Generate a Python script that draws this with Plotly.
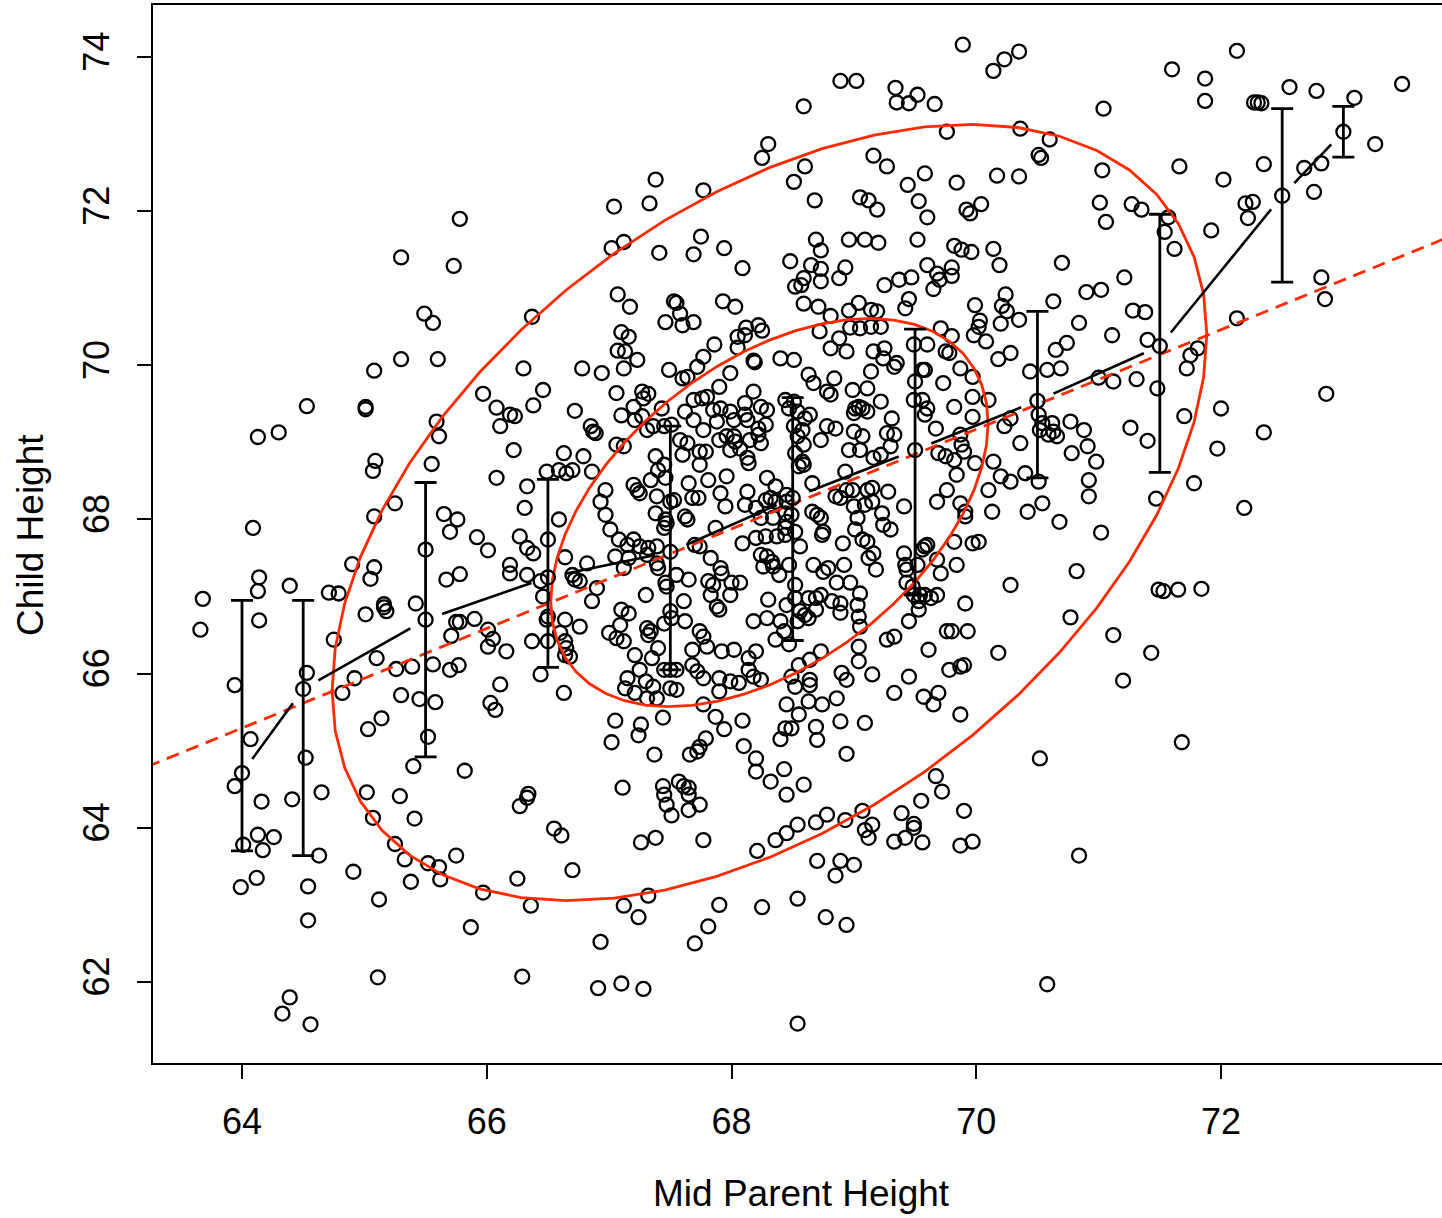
import math
import plotly.graph_objects as go

# ---------------- scatter data (mid parent height, child height) ----------------
parent_a = [65.78, 65.30, 65.73, 65.49, 65.56, 65.30, 65.60,
            68.30, 68.25, 67.38, 67.77, 67.04, 67.33, 68.51,
            67.02, 67.12, 67.41, 67.75, 67.69, 67.94, 68.09, 68.48,
            66.37, 67.07, 67.17, 67.53, 67.55, 67.58, 67.46, 67.60, 67.69, 67.93, 68.03,
            67.10, 67.16, 67.07, 67.13, 67.23, 67.86, 67.77, 68.05, 68.12, 68.11, 68.05, 68.22, 68.25, 68.18, 68.19, 68.40]
child_a = [71.90, 71.40, 71.29, 70.67, 70.55, 70.08, 70.08,
           72.87, 72.69, 72.41, 72.27, 72.06, 72.10, 72.38,
           71.52, 71.60, 71.46, 71.67, 71.44, 71.52, 71.26, 71.35,
           70.63, 70.92, 70.76, 70.83, 70.81, 70.67, 70.56, 70.52, 70.56, 70.83, 70.76,
           70.43, 70.37, 70.19, 70.18, 70.07, 70.27, 70.11, 70.37, 70.49, 70.39, 70.23, 70.52, 70.45, 70.06, 70.04, 70.09]

parent_b = [69.89, 70.23, 70.35, 70.14, 68.89, 69.02, 69.34, 69.52, 69.35, 69.45,
            69.66, 68.59, 69.76, 70.36, 70.60, 69.16, 69.27, 70.51, 70.53, 68.60,
            69.58, 69.44, 69.84, 70.17, 70.35, 68.68, 69.05, 69.12, 69.19, 69.53,
            69.60, 69.92, 69.95, 70.04, 68.69, 68.73, 68.96, 69.09, 69.20, 69.52,
            69.82, 69.88, 69.96, 70.14, 70.19, 70.70, 68.65, 68.73, 68.59, 68.52,
            68.57, 68.73, 68.88, 68.93, 69.60, 69.68, 69.80, 69.80, 69.70, 69.65,
            69.25, 69.37, 69.47, 70.90, 68.59, 68.71, 68.81, 68.96, 69.04, 69.14,
            69.19, 69.42, 69.45, 69.99, 70.24, 70.21, 70.25, 70.03, 70.02, 69.98,
            70.08, 70.20, 70.35, 70.63, 70.84, 70.74, 70.65, 70.28, 70.18, 68.72,
            68.88, 68.81, 68.94, 68.97, 69.05, 69.14, 69.22, 69.16, 69.25, 69.24,
            69.35, 69.49, 69.60, 69.71, 69.80, 69.75, 69.78, 68.51]
child_b = [74.16, 73.97, 74.07, 73.82, 73.69, 73.69, 73.60, 73.51, 73.41, 73.40,
           73.39, 73.36, 73.03, 73.07, 72.93, 72.72, 72.58, 72.73, 72.69, 72.58,
           72.49, 72.34, 72.37, 72.46, 72.45, 72.14, 72.18, 72.14, 72.02, 72.13,
           71.92, 72.02, 71.97, 72.09, 71.63, 71.49, 71.63, 71.63, 71.59, 71.63,
           71.55, 71.50, 71.47, 71.51, 71.30, 71.33, 71.30, 71.25, 71.13, 71.02,
           71.04, 71.09, 71.13, 71.27, 71.30, 71.19, 71.27, 71.16, 71.11, 70.99,
           71.04, 71.11, 71.14, 70.95, 70.80, 70.76, 70.64, 70.71, 70.81, 70.72,
           70.70, 70.74, 70.86, 70.78, 70.92, 70.77, 70.70, 70.58, 70.50, 70.39,
           70.31, 70.54, 70.59, 70.83, 70.55, 70.29, 70.20, 70.16, 70.08, 70.44,
           70.35, 70.22, 70.18, 70.49, 70.48, 70.50, 70.50, 70.18, 70.22, 70.09,
           70.03, 70.27, 70.27, 70.48, 70.38, 70.18, 70.16, 70.07]

parent_c = [72.13, 71.60, 71.87, 71.87, 72.56, 72.78, 73.09, 73.48, 71.04, 72.27,
            72.30, 72.33, 73.26, 72.35, 72.68, 72.82, 72.76, 71.03, 71.66, 72.02,
            71.01, 71.27, 71.35, 71.06, 71.57, 71.54, 71.62, 71.92, 72.20, 72.26,
            72.22, 72.82, 72.85, 71.21, 71.02, 71.28, 71.38, 71.11, 71.40, 72.13,
            71.81, 71.75]
child_c = [74.08, 73.84, 73.72, 73.43, 73.61, 73.56, 73.47, 73.65, 73.33, 73.41,
           73.41, 73.40, 72.87, 72.61, 72.56, 72.62, 72.25, 72.53, 72.58, 72.41,
           72.11, 72.09, 72.02, 71.86, 71.92, 71.73, 71.51, 71.75, 72.10, 72.12,
           71.91, 71.14, 70.86, 71.14, 70.98, 70.71, 70.69, 70.39, 70.33, 70.61,
           70.22, 70.13]

parent_d = [65.08, 65.97, 66.08, 64.53, 65.01, 65.01, 64.13, 64.30, 65.59, 65.61,
            65.09, 65.07, 65.55, 65.25, 65.08, 65.65, 65.76, 65.70, 65.92, 66.01,
            65.50, 64.09, 64.90, 65.08, 65.05, 64.14, 64.13, 64.39, 63.68, 63.66,
            64.14, 64.71, 64.79, 65.16, 65.16, 65.18, 65.01, 65.42, 65.67, 65.78,
            65.75, 65.78, 65.90, 65.71, 66.01, 66.05, 66.01, 64.75, 65.10, 64.92,
            64.82, 64.53, 63.94, 65.26, 65.39, 65.56, 65.70, 65.77, 65.30, 65.45,
            65.58, 66.03, 66.11, 66.07, 66.11, 66.08]
child_d = [69.93, 69.63, 69.45, 69.47, 69.46, 69.43, 69.07, 69.13, 69.27, 69.08,
           68.76, 68.63, 68.72, 68.21, 68.04, 68.07, 68.00, 67.84, 67.77, 67.60,
           67.61, 67.89, 67.42, 67.38, 67.23, 67.25, 67.07, 67.14, 66.97, 66.57,
           66.69, 67.05, 67.04, 66.90, 66.86, 66.81, 66.77, 66.91, 67.22, 67.29,
           66.67, 66.67, 66.71, 66.49, 66.57, 66.45, 66.35, 66.44, 66.20, 65.94,
           65.75, 66.01, 65.85, 66.06, 66.09, 66.12, 66.05, 66.11, 65.72, 65.67,
           65.63, 65.62, 65.86, 65.53, 69.21, 68.54]

parent_e = [66.30, 66.78, 66.94, 67.12, 67.49, 67.60, 67.64, 67.72, 67.99, 66.46,
            66.38, 66.72, 67.06, 67.27, 67.32, 67.28, 67.20, 67.10, 67.43, 67.69,
            67.76, 67.80, 67.90, 68.18, 68.11, 68.24, 68.29, 68.44, 68.47, 67.62,
            67.85, 67.91, 67.99, 68.11, 66.19, 66.23, 67.27, 67.21, 67.31, 67.36,
            67.45, 67.51, 67.69, 67.77, 67.88, 68.02, 68.13, 68.22, 68.28, 66.85,
            66.87, 66.89, 67.06, 67.12, 66.22, 67.58, 67.64, 67.60, 67.90, 67.96,
            68.02, 68.03, 67.99, 68.07, 68.15, 68.24, 68.13, 68.14, 67.74, 67.79,
            67.74, 67.38, 67.45, 67.40, 68.22, 66.63, 66.79, 66.86, 66.70, 66.49,
            66.59, 66.65, 66.33, 66.97, 66.93, 67.20, 67.23, 67.25, 67.34, 67.46,
            67.65, 67.81, 67.96, 68.29, 68.36, 68.13, 67.91, 67.68, 67.73, 67.39,
            67.50, 67.53, 68.11, 68.20, 68.28, 68.32, 68.36, 68.45, 68.45, 67.95,
            68.44, 66.31, 66.97, 66.59, 67.38, 67.46, 67.47, 67.45, 67.62, 67.64,
            67.87, 66.27, 66.50, 66.38, 66.33, 67.01, 67.08, 67.15, 67.20, 67.25,
            67.32, 67.39, 67.31, 67.70, 67.74, 68.09, 68.20, 68.28, 68.37, 68.44,
            68.44, 68.34, 68.24, 68.45, 66.19, 66.19, 66.33, 66.64, 66.82, 66.70,
            66.72, 66.76, 66.44, 66.46, 66.90, 66.86, 67.05, 67.16, 67.12, 67.39,
            67.40, 67.83, 67.91, 67.92, 67.81, 67.85, 68.00, 68.07, 67.99, 67.65,
            67.55, 67.46, 67.47, 68.24, 68.29, 68.33, 68.34, 68.39, 68.47, 68.26,
            67.30, 67.61, 67.88, 67.90, 67.83, 67.10, 67.16, 67.09, 67.31, 67.34,
            67.32, 67.50, 67.51, 67.45, 67.62, 67.74, 67.77, 67.00, 67.06, 67.12,
            67.40, 67.68, 67.80, 67.92, 68.02, 68.18, 68.29, 68.30, 68.40, 68.45,
            68.43, 68.36, 68.47, 68.20, 68.14, 66.49, 66.50, 66.64, 66.76, 66.37,
            66.50, 66.60, 66.64, 66.65, 66.64, 66.68, 66.16, 66.44, 66.63, 67.21,
            67.25, 67.35, 67.45, 67.50, 67.55, 67.15, 67.13, 67.21, 67.30, 67.36,
            67.39, 67.31, 67.50, 67.55, 67.68, 67.72, 67.77, 67.90, 67.99, 68.06,
            68.14, 68.18, 68.24, 67.90, 67.77, 68.45]
child_e = [69.96, 69.96, 69.90, 69.96, 69.94, 69.83, 69.85, 69.98, 69.90, 69.68,
           69.48, 69.41, 69.64, 69.66, 69.63, 69.57, 69.46, 69.35, 69.44, 69.55,
           69.57, 69.59, 69.72, 69.66, 69.51, 69.46, 69.42, 69.55, 69.44, 69.40,
           69.42, 69.44, 69.40, 69.36, 69.36, 69.34, 69.34, 69.29, 69.16, 69.21,
           69.21, 69.23, 69.29, 69.16, 69.27, 69.29, 69.29, 69.18, 69.23, 69.21,
           69.14, 69.12, 68.97, 68.95, 68.90, 69.03, 68.99, 68.84, 69.03, 69.08,
           69.08, 69.01, 68.90, 68.92, 69.03, 68.99, 68.80, 68.73, 68.88, 68.88,
           68.71, 68.82, 68.71, 68.64, 69.10, 68.86, 68.82, 68.62, 68.64, 68.62,
           68.64, 68.60, 68.43, 68.38, 68.23, 68.45, 68.38, 68.34, 68.51, 68.54,
           68.47, 68.51, 68.56, 68.54, 68.43, 68.36, 68.34, 68.28, 68.28, 68.30,
           68.23, 68.25, 68.19, 68.15, 68.25, 68.28, 68.23, 68.32, 68.23, 68.17,
           68.08, 68.15, 68.06, 68.00, 68.08, 68.00, 67.95, 67.89, 68.04, 68.00,
           67.89, 67.78, 67.74, 67.56, 67.63, 67.87, 67.74, 67.67, 67.74, 67.65,
           67.63, 67.65, 67.54, 67.67, 67.65, 67.69, 67.76, 67.78, 67.78, 67.80,
           67.89, 68.02, 68.02, 67.97, 67.41, 67.30, 67.28, 67.51, 67.43, 67.28,
           67.22, 67.20, 67.20, 67.00, 67.11, 66.94, 67.52, 67.50, 67.37, 67.43,
           67.37, 67.50, 67.37, 67.30, 67.20, 67.15, 67.18, 67.18, 67.02, 67.22,
           67.28, 67.18, 67.13, 67.54, 67.52, 67.45, 67.39, 67.28, 67.41, 67.39,
           67.02, 66.94, 66.87, 66.83, 67.02, 66.83, 66.78, 66.63, 66.59, 66.55,
           66.50, 66.81, 66.72, 66.65, 66.68, 66.55, 66.48, 66.53, 66.46, 66.42,
           66.33, 66.31, 66.35, 66.29, 66.31, 66.68, 66.72, 66.96, 66.68, 66.89,
           66.55, 66.44, 66.38, 66.29, 66.20, 66.70, 66.74, 66.70, 66.61, 66.42,
           66.42, 66.53, 66.42, 66.33, 66.24, 66.22, 66.29, 65.99, 65.75, 66.24,
           66.05, 66.20, 66.05, 66.05, 66.05, 65.94, 65.81, 65.75, 65.90, 65.83,
           65.68, 65.68, 65.81, 65.79, 66.11, 66.03, 65.94, 65.94, 65.90, 65.88,
           66.05, 65.96, 65.92, 65.77, 65.60, 65.60]

parent_f = [68.63, 68.67, 68.84, 69.14, 69.33, 69.56, 69.58, 69.50, 69.73, 69.87,
            69.97, 70.44, 70.58, 70.69, 68.51, 68.54, 68.60, 68.64, 68.51, 68.58,
            68.54, 68.59, 68.52, 68.58, 68.59, 68.55, 68.78, 68.81, 68.99, 69.11,
            69.22, 69.04, 69.01, 69.07, 69.11, 69.00, 69.31, 69.49, 69.56, 69.60,
            69.58, 69.82, 69.97, 69.97, 70.10, 68.78, 68.85, 69.00, 69.07, 69.27,
            69.33, 69.30, 68.96, 69.05, 69.16, 69.22, 68.73, 69.67, 69.87, 69.88,
            69.90, 69.69, 69.75, 69.82, 69.84, 69.99, 70.23, 70.28, 70.36, 70.14,
            70.20, 70.28, 70.40, 70.51, 70.54, 70.62, 70.63, 70.66, 70.59, 70.77,
            70.78, 70.88, 70.91, 70.51, 70.52, 68.66, 68.93, 68.89, 68.85, 68.94,
            68.99, 69.11, 69.15, 69.28, 69.15, 69.09, 69.00, 69.03, 69.23, 69.24,
            69.30, 69.01, 68.73, 68.66, 68.70, 68.75, 68.74, 69.41, 69.68, 69.76,
            69.87, 69.91, 69.91, 70.13, 70.10, 70.42, 70.54, 70.68, 70.92, 70.92,
            68.49, 68.52, 68.56, 68.91, 69.07, 69.11, 68.67, 68.75, 68.79, 68.92,
            68.86, 68.97, 69.05, 69.16, 69.12, 69.18, 69.41, 69.42, 69.43, 69.43,
            69.48, 69.49, 69.54, 69.53, 69.58, 69.63, 69.68, 69.52, 69.56, 69.58,
            69.60, 69.68, 69.71, 69.84, 69.82, 69.97, 70.02, 69.91, 68.52, 68.52,
            68.63, 68.69, 68.73, 68.82, 68.89, 68.89, 69.03, 69.04, 69.05, 68.56,
            68.60, 68.54, 68.63, 68.69, 70.28, 70.82, 69.45, 69.53, 69.27, 69.33,
            69.76, 69.80, 69.93, 69.61, 70.18, 70.77, 68.73, 68.64, 68.55, 69.04,
            69.04, 68.90, 68.94, 69.15, 69.45, 69.78, 69.87, 69.90, 68.49, 68.52,
            68.64, 68.64, 68.86, 68.74, 68.63, 69.33, 69.57, 69.65, 69.69]
child_f = [69.88, 69.77, 69.83, 69.92, 69.98, 69.94, 69.94, 69.79, 69.77, 69.96,
           69.85, 69.92, 69.94, 69.96, 69.53, 69.40, 69.31, 69.36, 69.21, 69.16,
           69.08, 68.97, 68.86, 68.75, 68.71, 68.69, 69.66, 69.62, 69.68, 69.70,
           69.53, 69.46, 69.44, 69.44, 69.40, 69.38, 69.31, 69.55, 69.55, 69.44,
           69.36, 69.46, 69.59, 69.33, 69.55, 69.21, 69.18, 69.14, 69.08, 69.12,
           69.10, 68.95, 68.90, 68.90, 68.80, 68.84, 69.03, 69.18, 69.10, 68.97,
           68.88, 68.86, 68.82, 68.77, 68.58, 68.73, 69.21, 69.31, 68.99, 68.75,
           68.56, 68.49, 68.60, 68.49, 69.25, 69.25, 69.14, 69.08, 69.10, 69.27,
           68.86, 69.16, 68.95, 69.36, 69.16, 68.47, 68.62, 68.28, 68.30, 68.38,
           68.38, 68.38, 68.41, 68.36, 68.23, 68.19, 68.17, 68.02, 68.08, 67.93,
           67.87, 67.87, 68.02, 68.10, 68.06, 67.84, 67.80, 68.17, 68.23, 68.38,
           68.21, 68.10, 68.04, 68.10, 68.38, 68.10, 68.21, 67.97, 68.51, 68.30,
           68.06, 67.84, 67.65, 67.69, 67.74, 67.71, 67.41, 67.32, 67.37, 67.41,
           67.18, 67.18, 67.04, 67.56, 67.50, 67.35, 67.56, 67.41, 67.35, 67.18,
           67.13, 67.02, 67.02, 66.94, 67.02, 66.98, 67.02, 67.41, 67.61, 67.65,
           67.67, 67.48, 67.30, 67.41, 67.71, 67.69, 67.71, 66.91, 67.15, 66.98,
           66.98, 66.98, 67.02, 66.94, 66.91, 66.79, 66.89, 66.74, 66.61, 66.81,
           66.76, 66.68, 66.72, 66.83, 67.15, 67.33, 66.68, 66.83, 66.44, 66.48,
           66.55, 66.55, 66.55, 66.31, 66.27, 66.73, 66.29, 66.18, 66.11, 66.35,
           66.16, 66.01, 65.92, 65.99, 65.96, 66.05, 66.09, 66.11, 65.96, 65.83,
           65.92, 65.85, 65.68, 65.60, 65.64, 65.75, 65.70, 65.60, 65.75]

parent_g = [71.00, 71.12, 71.31, 71.48, 71.72, 72.00, 71.70, 72.86, 72.35, 71.97,
            71.26, 71.40, 70.98, 71.78, 71.47, 72.19, 71.02, 71.49, 71.53, 71.65,
            71.84, 71.12, 71.43, 71.20]
child_g = [69.84, 69.79, 69.82, 69.70, 69.96, 69.44, 69.34, 69.63, 69.13, 68.92,
           69.19, 69.02, 68.75, 68.47, 68.27, 68.15, 67.83, 67.09, 67.07, 67.09,
           67.10, 66.50, 66.27, 65.91]

parent_h = [65.14, 65.03, 64.07, 65.52, 64.52, 65.40, 65.82, 63.94, 64.16, 64.41,
            64.65, 65.02, 65.29, 65.07, 65.41, 64.13, 64.26, 64.01, 64.17, 64.63,
            65.25, 65.33, 65.52, 65.61, 65.62, 65.75, 64.91, 65.38, 65.97, 63.99,
            64.12, 64.54, 65.12, 64.54, 65.87, 65.11, 64.39, 64.33, 64.56]
child_h = [65.42, 65.28, 65.15, 65.18, 64.91, 64.80, 64.74, 64.54, 64.34, 64.37,
           64.46, 64.46, 64.41, 64.13, 64.12, 63.91, 63.88, 63.78, 63.71, 63.64,
           63.79, 63.59, 63.54, 63.49, 63.33, 63.64, 63.43, 63.30, 63.16, 63.23,
           63.35, 63.24, 63.07, 62.80, 62.71, 62.06, 61.80, 61.59, 61.45]

parent_i = [67.05, 67.26, 67.24, 67.44, 67.02, 67.37, 67.87, 67.94, 68.09, 67.79,
            67.74, 67.72, 67.66, 68.10, 68.20, 68.20, 68.32, 68.40, 68.44, 68.43,
            68.45, 67.11, 67.44, 67.45, 67.47, 67.51, 67.57, 67.61, 67.65, 67.65,
            67.65, 67.74, 66.34, 66.33, 66.27, 66.55, 66.61, 67.26, 67.38, 67.77,
            68.21, 68.36, 68.45, 66.70, 66.25, 66.36, 67.12, 67.32, 67.24, 67.90,
            68.25, 67.81, 67.70, 66.93, 66.29, 66.91, 67.10, 67.28, 68.54]
child_i = [65.39, 65.34, 65.20, 65.43, 65.11, 64.95, 65.44, 65.28, 65.39, 65.16,
           65.05, 64.99, 64.95, 65.06, 64.90, 64.73, 64.60, 65.15, 65.29, 64.76,
           64.43, 64.52, 64.54, 64.43, 64.30, 64.16, 64.60, 64.54, 64.52, 64.43,
           64.23, 64.30, 64.44, 64.39, 64.28, 63.99, 63.90, 63.81, 63.87, 63.84,
           63.70, 63.84, 63.93, 63.45, 63.34, 62.99, 62.99, 63.12, 62.84, 63.00,
           62.97, 62.72, 62.50, 62.52, 62.07, 61.92, 61.98, 61.91, 61.46]

parent_j = [69.87, 68.55, 68.69, 68.70, 68.89, 69.09, 68.49, 68.94, 68.59, 68.54,
            68.69, 68.78, 68.93, 69.07, 69.09, 69.15, 69.12, 69.39, 69.49, 69.49,
            69.42, 69.33, 69.56, 69.55, 69.67, 69.72, 69.90, 69.87, 69.97, 70.52,
            70.84, 68.70, 68.89, 69.00, 68.85, 68.54, 68.77, 68.94, 70.58, 71.68]
child_j = [65.47, 65.47, 65.31, 65.14, 65.38, 65.36, 65.29, 64.96, 64.56, 64.04,
           64.07, 64.17, 64.10, 64.22, 63.97, 64.04, 63.87, 64.19, 64.05, 64.00,
           63.87, 63.82, 63.81, 64.35, 64.67, 64.47, 64.22, 63.77, 63.82, 64.90,
           63.64, 63.57, 63.57, 63.52, 63.38, 63.08, 62.84, 62.74, 61.97, 65.11]

# ---------------- group summaries (per mid-parent class) ----------------
group_parent = [64.0, 64.5, 65.5, 66.5, 67.5, 68.5, 69.5, 70.5, 71.5, 72.5, 73.0]
group_mean_child = [64.71, 65.80, 66.70, 67.25, 67.58, 68.28, 68.90, 69.54, 70.25, 72.20, 73.03]
group_bar_top = [66.95, 66.95, 68.48, 68.52, 69.21, 69.58, 70.47, 70.70, 71.96, 73.33, 73.36]
group_bar_bottom = [63.70, 63.64, 64.92, 66.08, 66.05, 66.43, 67.02, 68.54, 68.61, 71.08, 72.70]

# ---------------- regression line and data ellipse parameters ----------------
reg_intercept = 23.95
reg_slope = 0.646
ell_center = (68.31, 68.09)
ell_sd = (1.787, 2.518)
ell_rho = 0.459
ell_radii = [1.0, 2.0]
tick_x = [64, 66, 68, 70, 72]
tick_y = [62, 64, 66, 68, 70, 72, 74]

# ---------------- assemble ----------------
pairs = [(parent_a, child_a), (parent_b, child_b), (parent_c, child_c), (parent_d, child_d),
         (parent_e, child_e), (parent_f, child_f), (parent_g, child_g), (parent_h, child_h),
         (parent_i, child_i), (parent_j, child_j)]
mid_parent, child = [], []
for p, c in pairs:
    assert len(p) == len(c), (len(p), len(c))
    mid_parent += p
    child += c

RED = "#FF2A00"
FONT = "Liberation Sans, Arial, Helvetica, sans-serif"
FS = 36
W, H = 1442, 1218
ML, MR, MT, MB = 153, 0, 5, 155
PW, PH = W - ML - MR, H - MT - MB
X_RANGE = [63.2727, 63.2727 + PW / 122.375]
Y_RANGE = [74.0 - (MT + PH - 57) / 77.08, 74.0 + (57 - MT) / 77.08]

fig = go.Figure()

# points
fig.add_trace(go.Scatter(
    x=mid_parent, y=child, mode="markers",
    marker=dict(symbol="circle-open", size=14, color="black", line=dict(width=2.3, color="black")),
    hoverinfo="skip", showlegend=False))

# regression line (dashed red)
rx = [X_RANGE[0] - 1, X_RANGE[1] + 1]
fig.add_trace(go.Scatter(
    x=rx, y=[reg_intercept + reg_slope * v for v in rx], mode="lines",
    line=dict(color=RED, width=2.8, dash="13px,8px"), hoverinfo="skip", showlegend=False))

# data ellipses
mx, my = ell_center
sx, sy = ell_sd
nseg = 52
for r in ell_radii:
    ts = [2 * math.pi * k / nseg for k in range(nseg + 1)]
    ex = [mx + r * sx * math.cos(t) for t in ts]
    ey = [my + r * sy * (ell_rho * math.cos(t) + math.sqrt(1 - ell_rho ** 2) * math.sin(t)) for t in ts]
    fig.add_trace(go.Scatter(x=ex, y=ey, mode="lines", line=dict(color=RED, width=2.8),
                             hoverinfo="skip", showlegend=False))

# error bars with group-mean markers
fig.add_trace(go.Scatter(
    x=group_parent, y=group_mean_child, mode="markers",
    marker=dict(symbol="circle-open", size=14, color="black", line=dict(width=2.3, color="black")),
    error_y=dict(type="data", symmetric=False,
                 array=[t - m for t, m in zip(group_bar_top, group_mean_child)],
                 arrayminus=[m - b for m, b in zip(group_mean_child, group_bar_bottom)],
                 color="black", thickness=2.8, width=11),
    hoverinfo="skip", showlegend=False))

# connecting line between group means, with gaps around each marker (type = "b")
GAP = 17.5
kx = PW / (X_RANGE[1] - X_RANGE[0])
ky = PH / (Y_RANGE[1] - Y_RANGE[0])
lx, ly = [], []
for i in range(len(group_parent) - 1):
    x0, y0 = group_parent[i], group_mean_child[i]
    x1, y1 = group_parent[i + 1], group_mean_child[i + 1]
    L = math.hypot((x1 - x0) * kx, (y1 - y0) * ky)
    if L > 2 * GAP:
        f = GAP / L
        lx += [x0 + (x1 - x0) * f, x1 - (x1 - x0) * f, None]
        ly += [y0 + (y1 - y0) * f, y1 - (y1 - y0) * f, None]
fig.add_trace(go.Scatter(x=lx, y=ly, mode="lines", line=dict(color="black", width=2.6),
                         hoverinfo="skip", showlegend=False))

fig.update_layout(
    width=W, height=H,
    margin=dict(l=ML, r=MR, t=MT, b=MB, pad=0),
    paper_bgcolor="white", plot_bgcolor="white",
    font=dict(family=FONT, size=FS, color="black"),
    showlegend=False,
    xaxis=dict(range=X_RANGE, tickvals=tick_x, ticktext=[str(v) for v in tick_x],
               ticks="outside", ticklen=14, tickwidth=2, tickcolor="black",
               showline=True, linewidth=2, linecolor="black", mirror=True,
               showgrid=False, zeroline=False, ticklabelstandoff=12,
               tickfont=dict(family=FONT, size=FS, color="black")),
    yaxis=dict(range=Y_RANGE, tickvals=tick_y, ticktext=[str(v) for v in tick_y],
               ticks="outside", ticklen=14, tickwidth=2, tickcolor="black",
               showline=True, linewidth=2, linecolor="black", mirror=False,
               showgrid=False, zeroline=False, tickangle=-90, ticklabelstandoff=14,
               tickfont=dict(family=FONT, size=FS, color="black")),
    annotations=[
        dict(text="Mid Parent Height", xref="paper", yref="paper",
             x=(802 - ML) / PW, y=(MT + PH - 1193) / PH, xanchor="center", yanchor="middle",
             showarrow=False, font=dict(family=FONT, size=FS + 1, color="black")),
        dict(text="Child Height", xref="paper", yref="paper",
             x=(30 - ML) / PW, y=(MT + PH - 535) / PH, xanchor="center", yanchor="middle",
             textangle=-90, showarrow=False, font=dict(family=FONT, size=FS + 1, color="black")),
    ],
)

fig.write_html("out.html",
               config={"displayModeBar": False},
               post_script="document.body.style.margin='0px';document.body.style.padding='0px';"
                           "document.body.style.overflow='hidden';")
